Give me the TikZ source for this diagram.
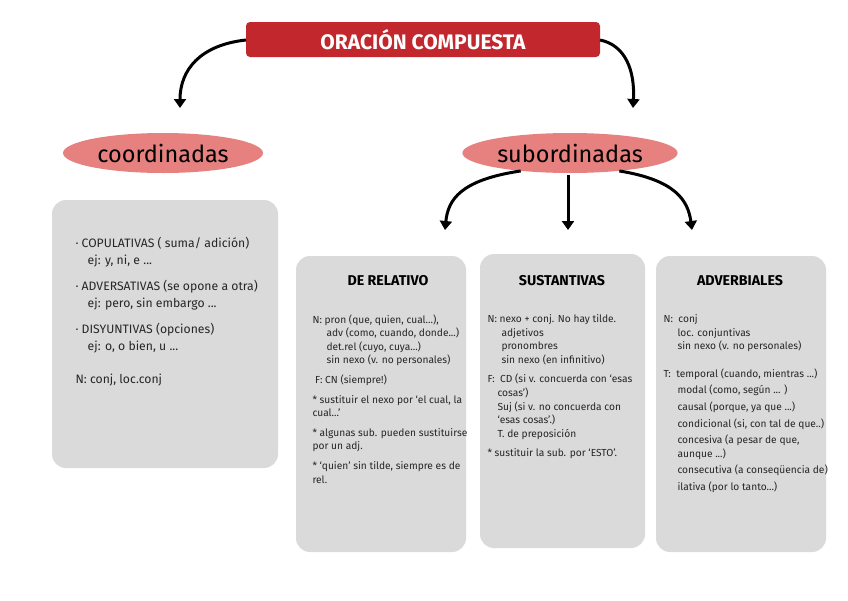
\documentclass[tikz,border=0pt]{standalone}
\usepackage{fontspec}
\setmainfont{Fira Sans}
\usetikzlibrary{arrows.meta,shapes.geometric}
\definecolor{boxgray}{HTML}{DADADA}
\definecolor{titred}{HTML}{C1272D}
\definecolor{pinkel}{HTML}{E6817F}
\tikzset{
  panel/.style={fill=boxgray,draw=none,rounded corners=14pt},
  arr/.style={line width=3pt,-{Triangle[length=9pt,width=12pt]}},
  small/.style={anchor=north west,align=left,font=\fontsize{10.2}{13.6}\selectfont,text=black!85},
  head/.style={font=\fontsize{14.2}{16}\selectfont\bfseries},
  ell/.style={ellipse,fill=pinkel,minimum width=200pt,minimum height=40pt,font=\fontsize{23.5}{26}\selectfont}
}
\begin{document}
\begin{tikzpicture}[x=1pt,y=-1pt]
\useasboundingbox[fill=white] (0,0) rectangle (848,600);
\fill[titred,rounded corners=4pt] (246,22) rectangle (600,57);
\node[text=white,font=\fontsize{21}{23}\selectfont\bfseries] (title) at (423,40) {ORACIÓN COMPUESTA};
\coordinate (tl) at (246,40); \coordinate (tr) at (600,40);
\node[ell] (coord) at (163,153) {coordinadas};
\node[ell] (sub) at (570,153) {subordinadas};
\fill[panel] (52,200) rectangle (278,468);
\fill[panel] (296,256) rectangle (466,552);
\fill[panel] (480,254) rectangle (645,548);
\fill[panel] (656,256) rectangle (826,552);
\node[head] (rel) at (388,281) {DE RELATIVO};
\node[head] (sus) at (562,281) {SUSTANTIVAS};
\node[head] (adv) at (740,281) {ADVERBIALES};
\coordinate (relt) at (445,230); \coordinate (sust) at (568,230); \coordinate (advt) at (692,230);
\draw[arr] (tl) .. controls (200,45) and (180,70) .. (180,108);
\draw[arr] (tr) .. controls (625,45) and (635,70) .. (633,108);
\draw[arr] (sub.200) .. controls (460,180) and (448,200) .. (relt);
\draw[arr] (568,175) -- (sust);
\draw[arr] (sub.-20) .. controls (675,180) and (688,200) .. (advt);
\node[small,font=\fontsize{12.2}{17}\selectfont] (ct) at (72,234) {· COPULATIVAS ( suma/ adición)\\ \quad ej: y, ni, e ...\\[9pt]
· ADVERSATIVAS (se opone a otra)\\ \quad ej: pero, sin embargo ...\\[9pt]
· DISYUNTIVAS (opciones)\\ \quad ej: o, o bien, u ...\\[16pt]
N: conj, loc.conj};
\node[small] (rt) at (309,311) {N: pron (que, quien, cual...),\\
\hspace{14pt}adv (como, cuando, donde...)\\
\hspace{14pt}det.rel (cuyo, cuya...)\\
\hspace{14pt}sin nexo (v. no personales)\\[6pt]
\ F: CN (siempre!)\\[6pt]
* sustituir el nexo por `el cual, la\\ cual...'\\[6pt]
* algunas sub. pueden sustituirse\\ por un adj.\\[6pt]
* `quien' sin tilde, siempre es de\\ rel.};
\node[small] (st) at (484,311) {N: nexo + conj. No hay tilde.\\
\hspace{14pt}adjetivos\\
\hspace{14pt}pronombres\\
\hspace{14pt}sin nexo (en infinitivo)\\[6pt]
F: \ CD (si v. concuerda con `esas\\
\hspace{10pt}cosas')\\
\hspace{10pt}Suj (si v. no concuerda con\\
\hspace{10pt}`esas cosas'.)\\
\hspace{10pt}T. de preposición\\[6pt]
* sustituir la sub. por `ESTO'.};
\node[small] (at) at (660,311) {N: \ conj\\
\hspace{14pt}loc. conjuntivas\\
\hspace{14pt}sin nexo (v. no personales)\\[14pt]
T: \ temporal (cuando, mientras ...)\\[3pt]
\hspace{14pt}modal (como, según ... )\\[3pt]
\hspace{14pt}causal (porque, ya que ...)\\[3pt]
\hspace{14pt}condicional (si, con tal de que..)\\[3pt]
\hspace{14pt}concesiva (a pesar de que,\\
\hspace{14pt}aunque ...)\\[3pt]
\hspace{14pt}consecutiva (a conseqüencia de)\\[3pt]
\hspace{14pt}ilativa (por lo tanto...)};
\end{tikzpicture}
\end{document}
